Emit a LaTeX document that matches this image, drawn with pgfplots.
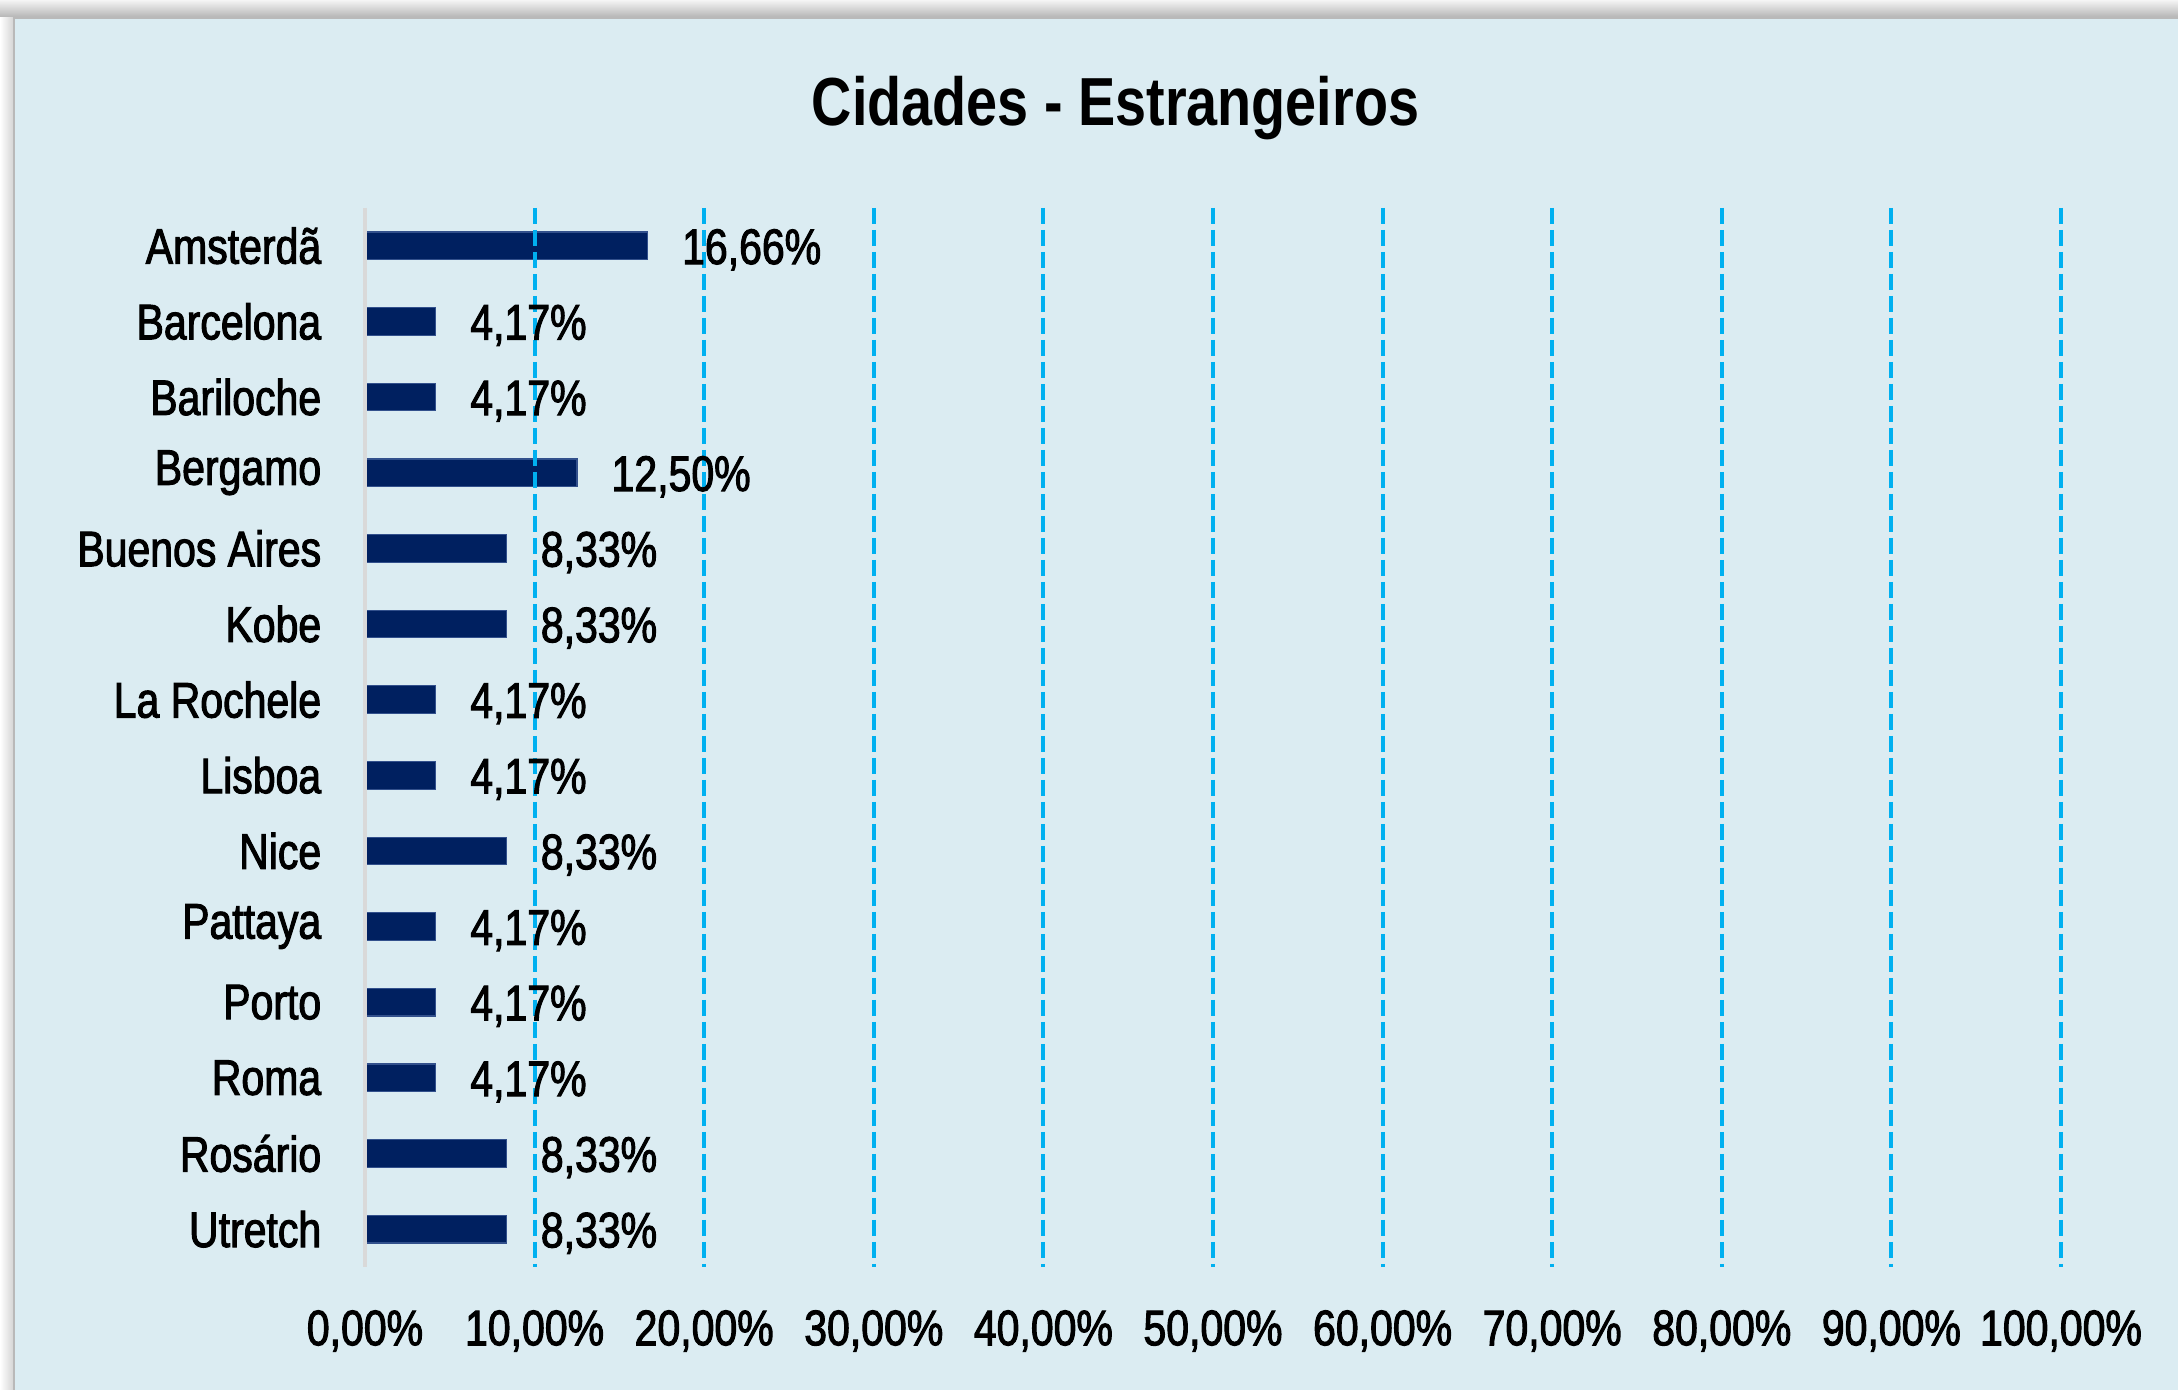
\documentclass[border=0pt]{standalone}
\usepackage{fontspec}
\setmainfont{Liberation Sans}[FakeStretch=0.82]
\newfontfamily\lblfont{Liberation Sans}[FakeStretch=0.82, FakeBold=2]
\usepackage{pgfplots}
\pgfplotsset{compat=1.18}
\definecolor{bgblue}{RGB}{219,236,242}
\definecolor{barnavy}{RGB}{0,32,96}
\definecolor{baredge}{RGB}{50,80,140}
\definecolor{gridcyan}{RGB}{0,176,240}

\begin{document}
\begin{tikzpicture}
\useasboundingbox (0,0) rectangle (544.5pt,347.5pt);
\fill[white] (0,0) rectangle (544.5pt,347.5pt);
\shade[top color=gray!8, bottom color=gray!60] (0,343pt) rectangle (544.5pt,347.5pt);
\shade[left color=white, right color=gray!35] (0,0) rectangle (3.5pt,343pt);
\filldraw[fill=bgblue, draw=gray!55, line width=0.6pt] (3.5pt,-1pt) rectangle (547pt,343pt);

\begin{axis}[
    at={(91.25pt,30.75pt)}, anchor=south west,
    scale only axis, width=424pt, height=264.75pt,
    xbar, bar width=6.9pt, bar shift=0pt,
    xmin=0, xmax=100, ymin=-0.5, ymax=13.5, y dir=reverse,
    axis lines*=left,
    x axis line style={draw=none},
    y axis line style={-, draw=gray!30, line width=1pt},
    major tick length=0pt,
    xtick={0,10,...,100},
    extra x ticks={10,20,...,100},
    extra x tick labels={},
    extra x tick style={xmajorgrids=true},
    major grid style={draw=gridcyan, line width=1pt, dash pattern=on 4pt off 1.5pt},
    axis on top,
    xticklabel={\pgfmathprintnumber[fixed,fixed zerofill,precision=2,use comma,assume math mode=true]{\tick}\%},
    xticklabel style={anchor=center, yshift=-16pt, font=\lblfont\fontsize{12.5}{14}\selectfont},
    ytick={0,...,13},
    yticklabels={Amsterdã, Barcelona, Bariloche, Bergamo, Buenos Aires, Kobe, La Rochele, Lisboa, Nice, Pattaya, Porto, Roma, Rosário, Utretch},
    yticklabel style={anchor=east, inner sep=0pt, xshift=-10.75pt, font=\lblfont\fontsize{12.5}{14}\selectfont},
    point meta=x,
    nodes near coords={\pgfmathprintnumber[fixed,fixed zerofill,precision=2,use comma,assume math mode=true]{\pgfplotspointmeta}\%},
    nodes near coords style={anchor=west, inner sep=0pt, xshift=8.5pt, yshift=-1pt, text=black, font=\lblfont\fontsize{12.5}{14}\selectfont},
]
\addplot[fill=barnavy, draw=baredge, line width=0.3pt] coordinates {
    (16.66,0) (4.17,1) (4.17,2) (12.50,3) (8.33,4) (8.33,5) (4.17,6)
    (4.17,7) (8.33,8) (4.17,9) (4.17,10) (4.17,11) (8.33,12) (8.33,13)
};
\end{axis}

\node[font=\bfseries\fontsize{17}{20}\selectfont] at (278.9pt,320.5pt) {Cidades - Estrangeiros};
\end{tikzpicture}
\end{document}
